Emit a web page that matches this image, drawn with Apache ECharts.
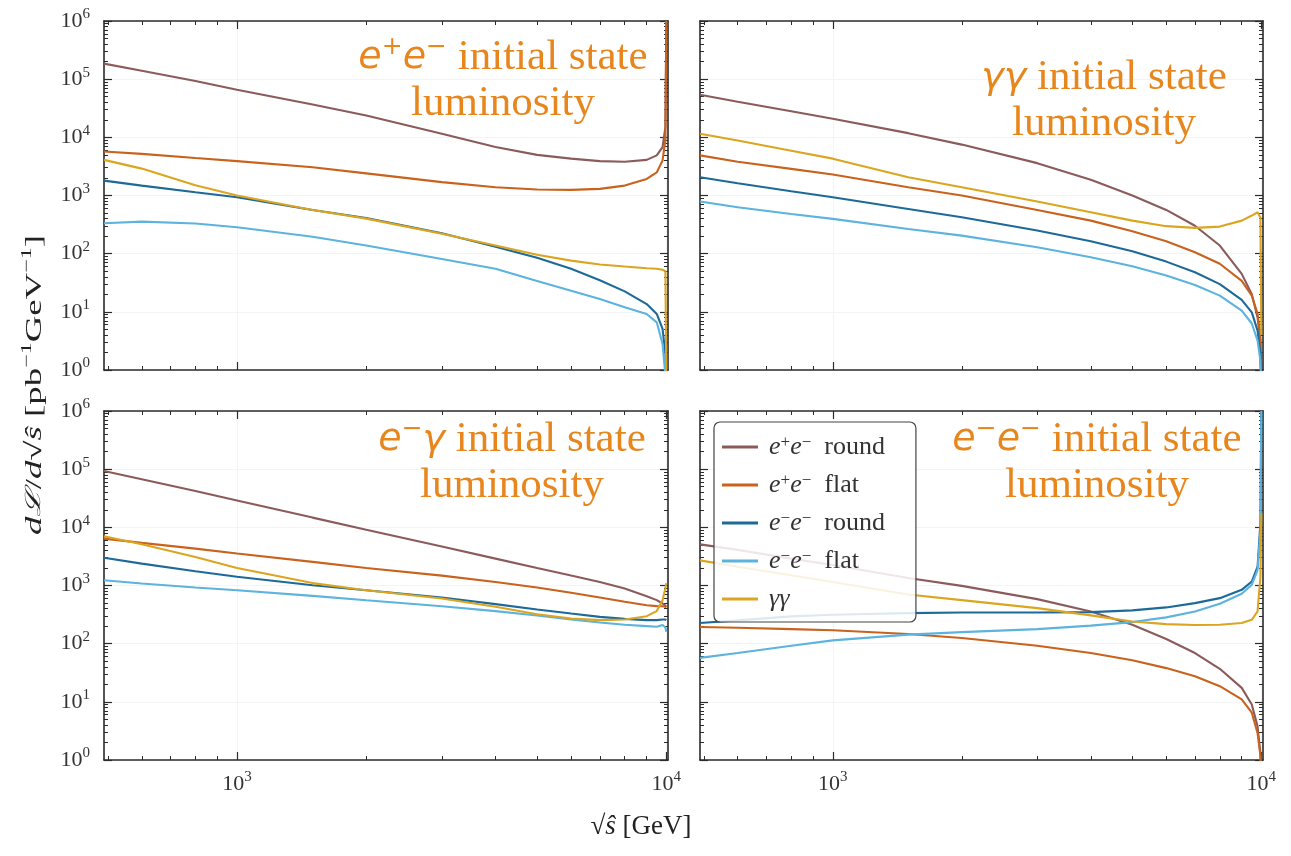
<!DOCTYPE html>
<html><head><meta charset="utf-8">
<script src="https://cdn.jsdelivr.net/npm/echarts@6/dist/echarts.min.js"></script>
<style>html,body{margin:0;padding:0;background:#fff}#c{width:1291px;height:856px}</style>
</head><body><div id="c"></div>
<script>
// ---------------- DATA ----------------
const sqrtS = [490, 600, 800, 1000, 1500, 2000, 3000, 4000, 5000, 6000, 7000, 8000, 9000, 9500, 9800, 9950, 10000];

// Top-left: e+e- initial state luminosity
const tl_epemRound = [1.85e5, 1.4e5, 9.3e4, 6.6e4, 3.67e4, 2.37e4, 1.15e4, 6.8e3, 5.0e3, 4.3e3, 3.9e3, 3.8e3, 4.1e3, 4.9e3, 6.8e3, 1.5e4, 1e6];
const tl_epemFlat  = [5.7e3, 5.2e3, 4.4e3, 3.9e3, 3.06e3, 2.4e3, 1.7e3, 1.39e3, 1.27e3, 1.25e3, 1.3e3, 1.48e3, 1.93e3, 2.5e3, 4.0e3, 9.0e3, 1e6];
const tl_ememRound = [1.8e3, 1.48e3, 1.14e3, 935, 565, 410, 224, 132, 85, 55, 35, 22.5, 13.6, 9.2, 5.1, 1.9, 0.5];
const tl_ememFlat  = [333, 355, 330, 285, 196, 138, 81, 55, 34, 23, 16.6, 12, 9.2, 6.6, 2.8, 0.8, 0.5];
const tl_gammaGamma = [4.1e3, 2.9e3, 1.5e3, 1.0e3, 565, 400, 220, 138, 96, 76, 65, 60, 56, 55, 53, 50, 0.8];

// Top-right: γγ initial state luminosity
const tr_epemRound = [5.4e4, 4.1e4, 2.8e4, 2.08e4, 1.18e4, 7.5e3, 3.6e3, 1.86e3, 1.0e3, 565, 302, 138, 45, 20, 8, 3.2, 0.5];
const tr_epemFlat  = [4.9e3, 3.8e3, 2.87e3, 2.29e3, 1.39e3, 1.0e3, 565, 370, 243, 163, 106, 67, 34, 19, 9.2, 3.6, 0.5];
const tr_ememRound = [2.06e3, 1.62e3, 1.18e3, 935, 588, 423, 250, 163, 110, 73, 48, 30, 16, 9.8, 4.75, 1.9, 0.5];
const tr_ememFlat  = [787, 630, 482, 397, 266, 204, 129, 87, 61, 42, 29, 19, 10.5, 6.3, 3.2, 1.45, 0.5];
const tr_gammaGamma = [1.15e4, 8.8e3, 5.9e3, 4.3e3, 2.06e3, 1.39e3, 787, 515, 370, 297, 278, 292, 370, 452, 515, 420, 4];

// Bottom-left: e−γ initial state luminosity
const bl_epemRound = [9.3e4, 6.7e4, 4.2e4, 2.9e4, 1.47e4, 9.1e3, 4.7e3, 2.9e3, 2.0e3, 1.48e3, 1.15e3, 890, 655, 560, 490, 450, 430];
const bl_epemFlat  = [6.4e3, 5.4e3, 4.3e3, 3.55e3, 2.55e3, 2.0e3, 1.48e3, 1.15e3, 923, 748, 621, 525, 458, 442, 441, 430, 420];
const bl_ememRound = [3.0e3, 2.38e3, 1.76e3, 1.41e3, 1.01e3, 830, 621, 478, 387, 330, 289, 267, 254, 254, 261, 260, 254];
const bl_ememFlat  = [1.23e3, 1.08e3, 923, 830, 664, 558, 441, 363, 305, 261, 231, 211, 200, 195, 209, 190, 160];
const bl_gammaGamma = [7.0e3, 5.1e3, 3.1e3, 2.0e3, 1.1e3, 830, 597, 430, 321, 271, 254, 260, 297, 363, 560, 900, 1.1e3];

// Bottom-right: e−e− initial state luminosity
const br_epemRound = [5.1e3, 4.1e3, 2.9e3, 2.25e3, 1.35e3, 986, 583, 358, 212, 120, 69, 37, 17.4, 9, 3.8, 1.3, 0.5];
const br_epemFlat  = [193, 188, 178, 170, 147, 125, 92, 69, 52, 38, 27.5, 18.6, 11, 6.5, 2.9, 1.2, 0.5];
const br_ememRound = [226, 251, 295, 314, 335, 344, 344, 349, 373, 420, 498, 606, 843, 1.17e3, 2.1e3, 1.17e4, 1e6];
const br_ememFlat  = [57, 69, 92, 114, 143, 158, 178, 204, 235, 283, 358, 485, 720, 1.03e3, 1.85e3, 8.9e3, 1e6];
const br_gammaGamma = [2.7e3, 2.1e3, 1.5e3, 1.15e3, 700, 560, 409, 306, 241, 217, 209, 212, 226, 257, 358, 1.43e3, 1.74e4];

const seriesNames = ['e+e- round', 'e+e- flat', 'e-e- round', 'e-e- flat', 'γγ'];
const legendLabels = {
  'e+e- round': '{f|e}{s|+}{i|e}{s|−}{t|  round}',
  'e+e- flat':  '{f|e}{s|+}{i|e}{s|−}{t|  flat}',
  'e-e- round': '{f|e}{s|−}{i|e}{s|−}{t|  round}',
  'e-e- flat':  '{f|e}{s|−}{i|e}{s|−}{t|  flat}',
  'γγ':         '{f|γγ}'
};
const panelTitles = [
  '{m|e}{ms|+}{m|e}{ms|−}{n| initial state}\n{n|luminosity}',
  '{m|γγ}{n| initial state}\n{n|luminosity}',
  '{m|e}{ms|−}{m|γ}{n| initial state}\n{n|luminosity}',
  '{m|e}{ms|−}{m|e}{ms|−}{n| initial state}\n{n|luminosity}'
];
const yAxisTitle = '{i|d}{L|ℒ}{r|/}{i|d}{r|√}{i|ŝ}{r| [pb}{s|−1}{r|GeV}{s|−1}{r|]}';
const xAxisTitle = '{r|√}{i|ŝ}{r| [GeV]}';
const panels = [
  [tl_epemRound, tl_epemFlat, tl_ememRound, tl_ememFlat, tl_gammaGamma],
  [tr_epemRound, tr_epemFlat, tr_ememRound, tr_ememFlat, tr_gammaGamma],
  [bl_epemRound, bl_epemFlat, bl_ememRound, bl_ememFlat, bl_gammaGamma],
  [br_epemRound, br_epemFlat, br_ememRound, br_ememFlat, br_gammaGamma]
];
const xMin = 490, xMax = 10090, yMin = 1, yMax = 1e6;

// ---------------- STYLE / LAYOUT ----------------
const colors = ['#8b5b5c', '#c8621c', '#1d6a98', '#5cb3de', '#dba520'];
const orange = '#e8861e';
const frame = '#2b2b2b';
const grids = [
  {left: 104, top: 21, width: 564, height: 349},
  {left: 700, top: 21, width: 563, height: 349},
  {left: 104, top: 411, width: 564, height: 349},
  {left: 700, top: 411, width: 563, height: 349}
];
const titlePos = [[503, 35], [1104, 55], [512, 417], [1097, 417]];

// tick positions in log10 space (for the tick-only overlay axes)
const lxMin = Math.log10(xMin), lxMax = Math.log10(xMax);
const majorX = [], minorX = [], majorY = [], minorY = [];
for (let n = 2; n <= 4; n++) {
  if (n >= lxMin && n <= lxMax) majorX.push(n);
  for (let k = 2; k <= 9; k++) { const l = n + Math.log10(k); if (l > lxMin && l < lxMax) minorX.push(l); }
}
for (let n = 0; n <= 6; n++) { majorY.push(n); if (n < 6) for (let k = 2; k <= 9; k++) minorY.push(n + Math.log10(k)); }

const serif = 'Liberation Serif';
const labelRich = {
  b: {fontFamily: serif, fontSize: 22, color: '#333', lineHeight: 28},
  s: {fontFamily: serif, fontSize: 15, color: '#333', verticalAlign: 'top', lineHeight: 15}
};
function powLabel(v) {
  const l = Math.log10(v), e = Math.round(l);
  if (Math.abs(l - e) > 1e-6) return '';
  return '{b|10}{s|' + e + '}';
}
function tickAxis(dim, gi, pos, values, len, withLine) {
  return {type: 'value', gridIndex: gi, position: pos,
    min: dim === 'x' ? lxMin : 0, max: dim === 'x' ? lxMax : 6,
    axisLine: {show: !!withLine, onZero: false, lineStyle: {color: frame, width: 1.6}},
    axisTick: {show: true, inside: true, length: len, customValues: values.slice(),
      lineStyle: {color: frame, width: len > 5 ? 1.2 : 1}},
    axisLabel: {show: false}, splitLine: {show: false}};
}

const xAxes = [], yAxes = [], series = [];
const AX = 5;
grids.forEach((g, gi) => {
  const showX = gi >= 2, showY = gi % 2 === 0;
  const base = gi * AX;
  xAxes.push({type: 'log', logBase: 10, gridIndex: gi, position: 'bottom', min: xMin, max: xMax,
    axisLine: {show: true, onZero: false, lineStyle: {color: frame, width: 1.6}}, axisTick: {show: false},
    axisLabel: {show: showX, formatter: powLabel, margin: 10, rich: labelRich},
    splitLine: {show: true, lineStyle: {color: '#f4f4f4', width: 1}}});
  xAxes.push(tickAxis('x', gi, 'bottom', majorX, 8, false));
  xAxes.push(tickAxis('x', gi, 'bottom', minorX, 4, false));
  xAxes.push(tickAxis('x', gi, 'top', majorX, 8, true));
  xAxes.push(tickAxis('x', gi, 'top', minorX, 4, false));
  yAxes.push({type: 'log', logBase: 10, gridIndex: gi, position: 'left', min: yMin, max: yMax,
    axisLine: {show: true, onZero: false, lineStyle: {color: frame, width: 1.6}}, axisTick: {show: false},
    axisLabel: {show: showY, formatter: powLabel, margin: 14, rich: labelRich},
    splitLine: {show: true, lineStyle: {color: '#f4f4f4', width: 1}}});
  yAxes.push(tickAxis('y', gi, 'left', majorY, 8, false));
  yAxes.push(tickAxis('y', gi, 'left', minorY, 4, false));
  yAxes.push(tickAxis('y', gi, 'right', majorY, 8, true));
  yAxes.push(tickAxis('y', gi, 'right', minorY, 4, false));
  panels[gi].forEach((arr, si) => {
    series.push({
      type: 'line', name: seriesNames[si], xAxisIndex: base, yAxisIndex: base,
      data: sqrtS.map((x, i) => [x, arr[i]]),
      showSymbol: false, symbol: 'none', clip: true, silent: true,
      lineStyle: {color: colors[si], width: 2.1}, itemStyle: {color: colors[si]}
    });
  });
});

const graphics = panelTitles.map((t, i) => ({
  type: 'text', x: titlePos[i][0], y: titlePos[i][1], z: 10,
  style: {text: t, align: 'center', verticalAlign: 'top', fill: orange,
    rich: {
      n: {fontFamily: serif, fontSize: 43, lineHeight: 46, fill: orange, color: orange},
      m: {fontFamily: 'DejaVu Sans', fontStyle: 'italic', fontSize: 38, lineHeight: 46, fill: orange, color: orange},
      ms: {fontFamily: 'DejaVu Sans', fontSize: 25, lineHeight: 24, verticalAlign: 'top', fill: orange, color: orange}
    }}
}));
graphics.push({
  type: 'text', x: 35, y: 385, rotation: Math.PI / 2, scaleX: 1.6, scaleY: 1, z: 10,
  style: {text: yAxisTitle, align: 'center', verticalAlign: 'middle', fill: '#222',
    rich: {
      i: {fontFamily: serif, fontStyle: 'italic', fontSize: 23, lineHeight: 30, fill: '#222'},
      L: {fontFamily: 'DejaVu Serif', fontStyle: 'italic', fontSize: 21, lineHeight: 30, fill: '#222'},
      r: {fontFamily: serif, fontSize: 23, lineHeight: 30, fill: '#222'},
      s: {fontFamily: serif, fontSize: 15, lineHeight: 15, verticalAlign: 'top', fill: '#222'}
    }}
});
graphics.push({
  type: 'text', x: 641, y: 827, z: 10,
  style: {text: xAxisTitle, align: 'center', verticalAlign: 'middle', fill: '#222',
    rich: {
      i: {fontFamily: serif, fontStyle: 'italic', fontSize: 27, fill: '#222'},
      r: {fontFamily: serif, fontSize: 27, fill: '#222'}
    }}
});

const chart = echarts.init(document.getElementById('c'), null, {renderer: 'canvas'});
chart.setOption({
  animation: false,
  backgroundColor: '#fff',
  grid: grids.map(g => Object.assign({containLabel: false}, g)),
  xAxis: xAxes,
  yAxis: yAxes,
  series,
  legend: {
    data: seriesNames, left: 714, top: 422, orient: 'vertical', icon: 'rect',
    itemWidth: 36, itemHeight: 3, itemGap: 12, padding: [12, 31, 10, 8],
    backgroundColor: 'rgba(255,255,255,0.85)', borderColor: '#444', borderWidth: 1.2, borderRadius: 6,
    selectedMode: false, z: 20,
    formatter: n => legendLabels[n],
    textStyle: {color: '#333', fontFamily: serif, fontSize: 25, lineHeight: 26,
      rich: {
        f: {fontFamily: serif, fontStyle: 'italic', fontSize: 26, lineHeight: 26, color: '#333', padding: [0, 0, 0, 6]},
        i: {fontFamily: serif, fontStyle: 'italic', fontSize: 26, lineHeight: 26, color: '#333'},
        s: {fontFamily: serif, fontSize: 17, lineHeight: 15, verticalAlign: 'top', color: '#333'},
        t: {fontFamily: serif, fontSize: 26, lineHeight: 26, color: '#333'}
      }}
  },
  graphic: graphics
});
</script></body></html>
